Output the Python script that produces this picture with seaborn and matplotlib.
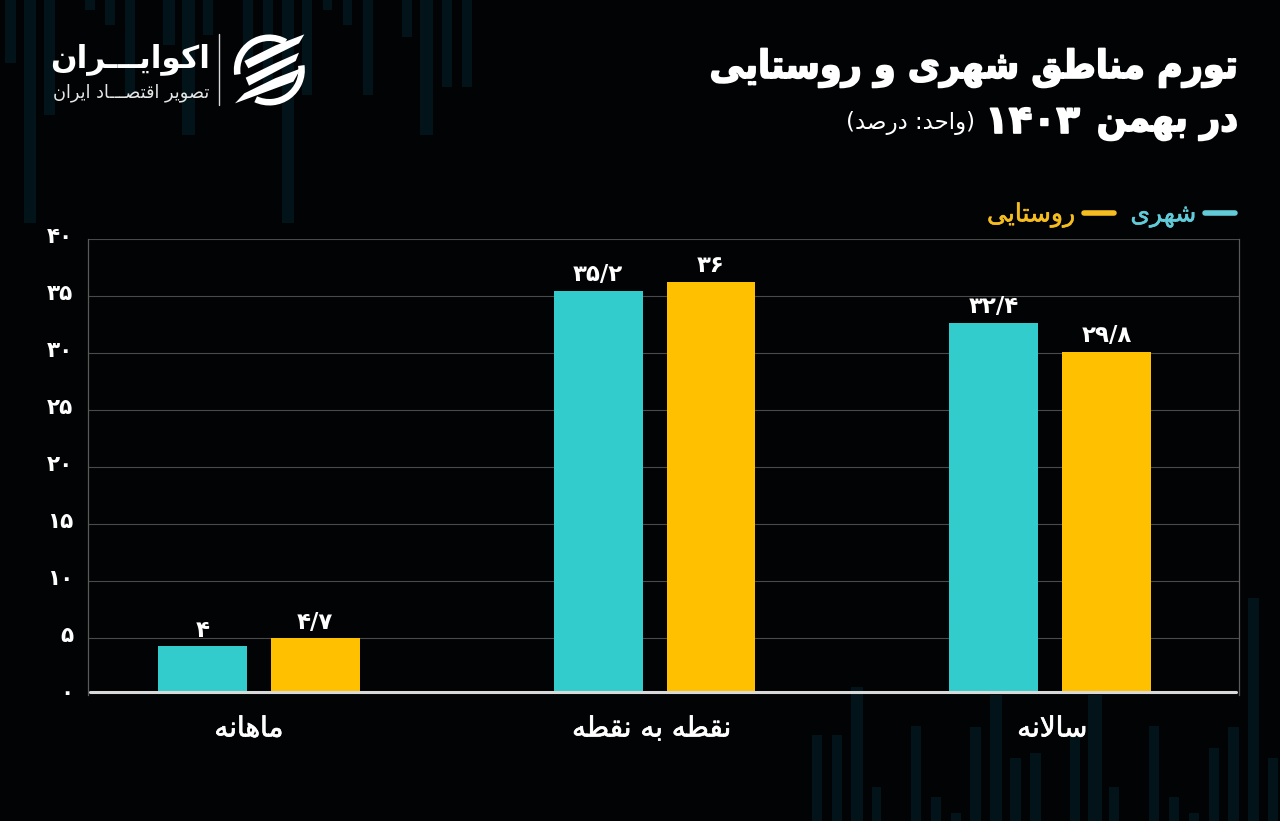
import numpy as np
import pandas as pd
import seaborn as sns
import matplotlib
matplotlib.use("Agg")
import matplotlib.pyplot as plt
import matplotlib.patheffects as pe
from matplotlib.lines import Line2D
from matplotlib.patches import Polygon, Wedge
from matplotlib.transforms import ScaledTranslation

# ---------- data ----------
categories = ["ماهانه", "نقطه به نقطه", "سالانه"]
urban_values = [4, 35.2, 32.4]
rural_values = [4.7, 36, 29.8]
series_names = ["شهری", "روستایی"]
tick_values = [0, 5, 10, 15, 20, 25, 30, 35, 40]

title_line1 = "تورم مناطق شهری و روستایی"
title_line2 = "در بهمن"
title_year = "۱۴۰۳"
title_unit = "(واحد: درصد)"
brand_name = "اکوایـــران"
brand_sub = "تصویر اقتصـــاد ایران"

# decorative backdrop columns of the source artwork: left, right, end (pixels)
top_left = [5, 24, 44, 85, 105, 125, 163, 182, 203, 243, 263, 282, 302, 323, 343, 363, 402, 420, 442, 462]
top_right = [16, 36, 55, 95, 115, 135, 175, 195, 213, 253, 273, 294, 312, 332, 352, 373, 412, 433, 452, 472]
top_end = [63, 223, 115, 10, 25, 95, 45, 135, 35, 60, 90, 223, 95, 10, 25, 95, 37, 135, 87, 87]
bottom_left = [812, 832, 851, 872, 911, 931, 951, 970, 990, 1010, 1030, 1070, 1088, 1109, 1149, 1169, 1189, 1209, 1228, 1248, 1268]
bottom_right = [822, 842, 863, 881, 921, 941, 961, 981, 1002, 1021, 1041, 1080, 1102, 1119, 1159, 1179, 1199, 1219, 1239, 1259, 1278]
bottom_start = [735, 735, 687, 787, 726, 797, 813, 727, 695, 758, 753, 737, 695, 787, 726, 797, 813, 748, 727, 598, 758]

# ---------- Persian shaping (matplotlib draws no contextual forms) ----------
FORMS = {
    "ا": (0xFE8D, 0xFE8E, None, None), "آ": (0xFE81, 0xFE82, None, None),
    "ب": (0xFE8F, 0xFE90, 0xFE91, 0xFE92), "پ": (0xFB56, 0xFB57, 0xFB58, 0xFB59),
    "ت": (0xFE95, 0xFE96, 0xFE97, 0xFE98), "ح": (0xFEA1, 0xFEA2, 0xFEA3, 0xFEA4),
    "د": (0xFEA9, 0xFEAA, None, None), "ر": (0xFEAD, 0xFEAE, None, None),
    "س": (0xFEB1, 0xFEB2, 0xFEB3, 0xFEB4), "ش": (0xFEB5, 0xFEB6, 0xFEB7, 0xFEB8),
    "ص": (0xFEB9, 0xFEBA, 0xFEBB, 0xFEBC), "ط": (0xFEC1, 0xFEC2, 0xFEC3, 0xFEC4),
    "ق": (0xFED5, 0xFED6, 0xFED7, 0xFED8), "ک": (0xFB8E, 0xFB8F, 0xFB90, 0xFB91),
    "ل": (0xFEDD, 0xFEDE, 0xFEDF, 0xFEE0), "م": (0xFEE1, 0xFEE2, 0xFEE3, 0xFEE4),
    "ن": (0xFEE5, 0xFEE6, 0xFEE7, 0xFEE8), "و": (0xFEED, 0xFEEE, None, None),
    "ه": (0xFEE9, 0xFEEA, 0xFEEB, 0xFEEC), "ی": (0xFBFC, 0xFBFD, 0xFBFE, 0xFBFF),
    "ـ": (0x640, 0x640, 0x640, 0x640),
}
LAM_ALEF = (0xFEFB, 0xFEFC)


def shape(text):
    chars = list(text)
    out = []
    i = 0
    prev_joins = False
    while i < len(chars):
        c = chars[i]
        if c not in FORMS:
            out.append(c)
            prev_joins = False
            i += 1
            continue
        if c == "ل" and i + 1 < len(chars) and chars[i + 1] == "ا":
            out.append(chr(LAM_ALEF[1 if prev_joins else 0]))
            prev_joins = False
            i += 2
            continue
        iso, fin, ini, med = FORMS[c]
        next_ok = i + 1 < len(chars) and chars[i + 1] in FORMS and ini is not None
        if prev_joins and next_ok:
            g = med
        elif prev_joins:
            g = fin
        elif next_ok:
            g = ini
        else:
            g = iso
        out.append(chr(g))
        prev_joins = ini is not None
        i += 1
    mirror = {"(": ")", ")": "("}
    return "".join(mirror.get(c, c) for c in reversed(out))


def fa_number(v):
    s = f"{v:g}".replace(".", "/")
    return s.translate(str.maketrans("0123456789", "۰۱۲۳۴۵۶۷۸۹"))


def thick(w):
    return [pe.withStroke(linewidth=w, foreground="white")]


# ---------- theme ----------
BG = "#010304"
TEAL = "#33CCCC"
AMBER = "#FFC000"
LEG_TEAL = "#62CBD8"
LEG_AMBER = "#F5BD1F"
sns.set_theme(style="dark", rc={"axes.facecolor": "none", "figure.facecolor": BG})
plt.rcParams["font.family"] = ["DejaVu Sans"]

W, H = 1280, 821
fig = plt.figure(figsize=(W / 100, H / 100), dpi=100, facecolor=BG)

# full-figure pixel layer for the artwork behind the chart
bg = fig.add_axes([0, 0, 1, 1], zorder=0)
deco = "#03131A"
for l, r, e in zip(top_left, top_right, top_end):
    bg.bar((l + r) / 2, e, width=r - l, bottom=0, color=deco, linewidth=0)
for l, r, s in zip(bottom_left, bottom_right, bottom_start):
    bg.bar((l + r) / 2, H - s, width=r - l, bottom=s, color=deco, linewidth=0)
bg.set_xlim(0, W)
bg.set_ylim(H, 0)
bg.axis("off")

# ---------- chart ----------
PX_LEFT, PX_RIGHT, PX_TOP, PX_BOTTOM = 88, 1238.5, 239, 695
ax = fig.add_axes([PX_LEFT / W, 1 - PX_BOTTOM / H, (PX_RIGHT - PX_LEFT) / W, (PX_BOTTOM - PX_TOP) / H], zorder=2)
ax.patch.set_alpha(0)

df = pd.DataFrame({
    "category": categories * 2,
    "value": urban_values + rural_values,
    "series": [series_names[0]] * 3 + [series_names[1]] * 3,
})
sns.barplot(data=df, x="category", y="value", hue="series", order=categories,
            hue_order=series_names, palette=[TEAL, AMBER], width=0.571, gap=0.213,
            saturation=1, legend=False, ax=ax, zorder=3, linewidth=0, edgecolor="none")

# the source's axis sits slightly below the bars' zero
AXIS_SHIFT = -0.26
ax.set_xlim(-0.432, 2.476)
ax.set_ylim(AXIS_SHIFT, 39.67)
ax.set_xlabel("")
ax.set_ylabel("")
ax.set_yticks([t + AXIS_SHIFT for t in tick_values])
ax.set_yticklabels([fa_number(t) for t in tick_values], fontsize=15.5, fontweight="bold", color="white")
ax.set_xticks(range(3))
ax.set_xticklabels([shape(c) for c in categories], fontsize=20, color="white")
ax.tick_params(axis="y", length=0, pad=10.5)
ax.tick_params(axis="x", length=0, pad=14)
for lab in ax.get_yticklabels():
    lab.set_transform(lab.get_transform() + ScaledTranslation(0, 3 / 72, fig.dpi_scale_trans))
for lab, dx in zip(ax.get_xticklabels(), [-10, -3, 2]):
    lab.set_transform(lab.get_transform() + ScaledTranslation(dx / 100, 0, fig.dpi_scale_trans))
    lab.set_path_effects(thick(0.5))
ax.grid(axis="y", color="#4A4A4A", linewidth=0.8, zorder=1)
ax.grid(axis="x", visible=False)
for side in ["left", "right"]:
    ax.spines[side].set_visible(True)
    ax.spines[side].set_color("#5A5A5A")
    ax.spines[side].set_linewidth(0.9)
for side in ["top", "bottom"]:
    ax.spines[side].set_visible(False)
ax.axhline(0, xmin=0.002, xmax=0.998, color="#D9D9D9", linewidth=2.2, zorder=4)

for container, vals in zip(ax.containers, [urban_values, rural_values]):
    ax.bar_label(container, labels=[fa_number(v) for v in vals], padding=3.5,
                 fontsize=16.5, fontweight="bold", color="white")

handles = [Line2D([], [], color=LEG_AMBER, lw=4, solid_capstyle="round"),
           Line2D([], [], color=LEG_TEAL, lw=4, solid_capstyle="round")]
leg = ax.legend(handles, [shape(series_names[1]), shape(series_names[0])], ncols=2,
                markerfirst=False, frameon=False, loc="lower right",
                bbox_to_anchor=(0.9972, 1.025), borderaxespad=0, borderpad=0,
                handlelength=1.2, handletextpad=0.36, columnspacing=0.65,
                prop={"size": 18})
for txt, col in zip(leg.get_texts(), [LEG_AMBER, LEG_TEAL]):
    txt.set_color(col)
    txt.set_path_effects([pe.withStroke(linewidth=0.4, foreground=col)])

# ---------- titles ----------
fg = fig.add_axes([0, 0, 1, 1], zorder=3)
fg.set_xlim(0, W)
fg.set_ylim(H, 0)
fg.axis("off")
fg.text(1238, 68, shape(title_line1), ha="right", va="center", fontsize=28, fontstretch="condensed",
        fontweight="bold", color="white", path_effects=thick(1.2))
fg.text(1238, 122, shape(title_line2), ha="right", va="center", fontsize=28, fontstretch="condensed",
        fontweight="bold", color="white", path_effects=thick(1.2))
fg.text(1080, 122, title_year, ha="right", va="center", fontsize=28,
        fontweight="bold", color="white", path_effects=thick(1.2))
fg.text(975, 123, shape(title_unit), ha="right", va="center", fontsize=16.5, color="white")

# ---------- brand ----------
fg.text(210, 59, shape(brand_name), ha="right", va="center", fontsize=22.5, fontweight="bold", color="white")
fg.text(209, 93, shape(brand_sub), ha="right", va="center", fontsize=12.8, color="#E6E6E6")
fg.plot([218.5, 218.5], [34, 105], color="#D8D8D8", lw=1)


def lz(points):
    return [(225 + x / 3, 25 + y / 3) for x, y in points]


stripes = [
    [(238, 28), (222, 55), (70, 130), (58, 108), (150, 62)],
    [(222, 83), (212, 108), (72, 182), (62, 158), (150, 115)],
    [(228, 130), (205, 170), (30, 235), (58, 205), (150, 160)],
]
for p in stripes:
    fg.add_patch(Polygon(lz(p), closed=True, color="white", lw=0))
cx, cy = 225 + 133 / 3, 25 + 135 / 3
# y axis is inverted, so wedge angles run clockwise on screen
fg.add_patch(Wedge((cx, cy), 35.5, 172, 300, width=6.5, color="white", lw=0))
fg.add_patch(Wedge((cx, cy), 35.5, 352, 115, width=6.5, color="white", lw=0))

fig.savefig("out.png", dpi=100, facecolor=BG)
